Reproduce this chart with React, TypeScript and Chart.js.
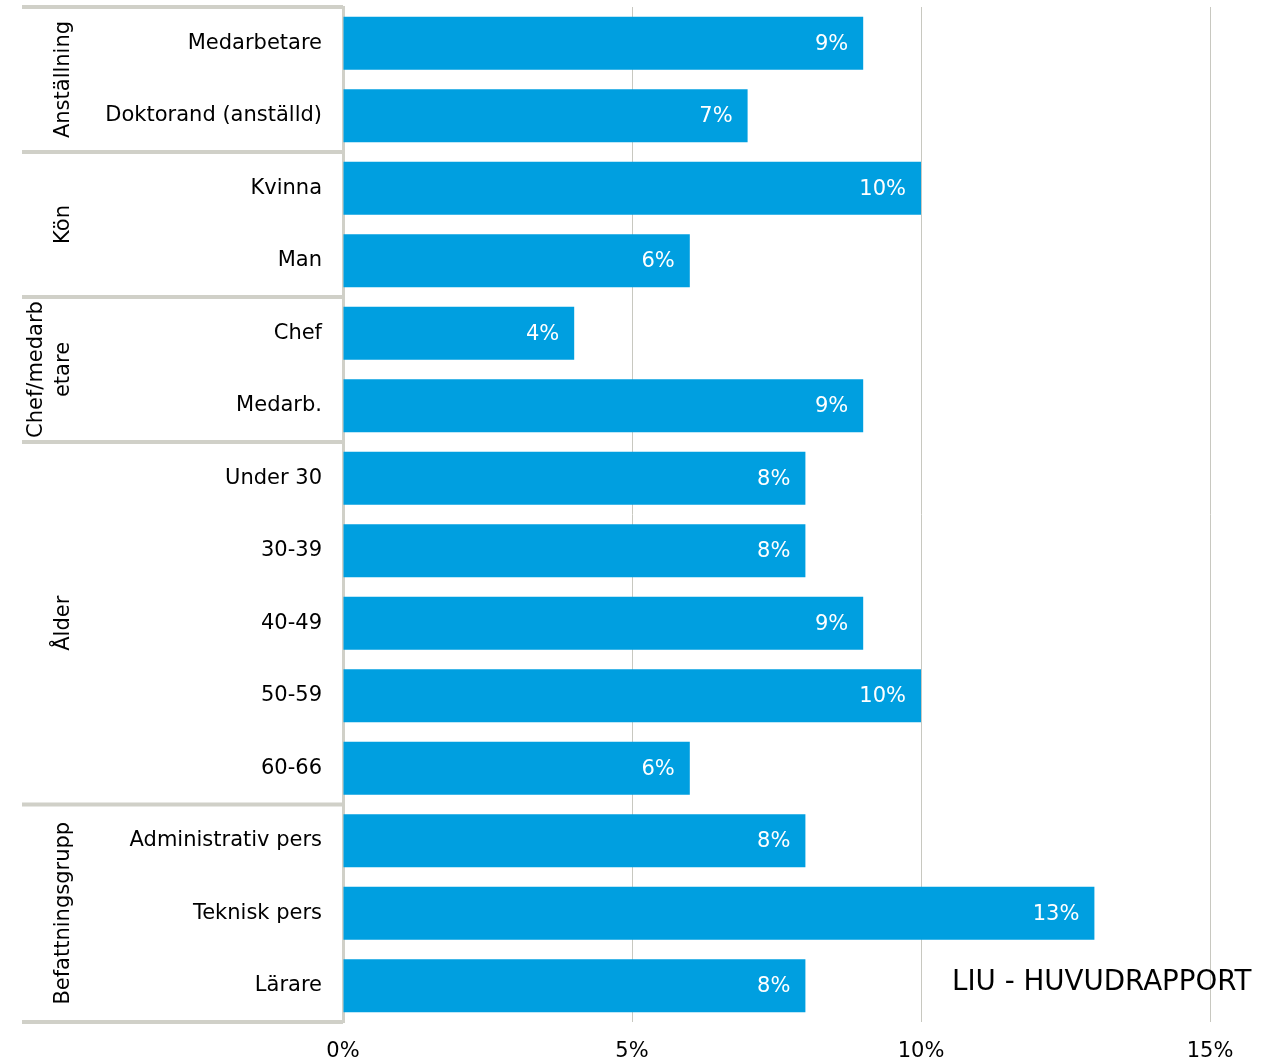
import React, { useEffect, useRef } from 'react';
import { Chart, registerables } from 'chart.js';

Chart.register(...registerables);

const categories = [
  'Medarbetare',
  'Doktorand (anställd)',
  'Kvinna',
  'Man',
  'Chef',
  'Medarb.',
  'Under 30',
  '30-39',
  '40-49',
  '50-59',
  '60-66',
  'Administrativ pers',
  'Teknisk pers',
  'Lärare',
];
const values = [9, 7, 10, 6, 4, 9, 8, 8, 9, 10, 6, 8, 13, 8];
const groupLabels = [['Anställning'], ['Kön'], ['Chef/medarb', 'etare'], ['Ålder'], ['Befattningsgrupp']];
const groupSizes = [2, 2, 2, 5, 3];
const xMin = 0;
const xMax = 15;
const xStep = 5;
const footerText = 'LIU - HUVUDRAPPORT';

const FONT = '"DejaVu Sans", Verdana, sans-serif';
const BAR = '#009FE0';
const SEP = '#D0D0C8';
const GRID = '#C8C8C0';
const TEXT = '#000000';

const decorPlugin = {
  id: 'decor',
  afterDraw(chart: any) {
    const ctx = chart.ctx;
    const y = chart.scales.y;
    const area = chart.chartArea;
    const p0 = y.getPixelForValue(0);
    const p1 = y.getPixelForValue(1);
    const half = (p1 - p0) / 2;

    // data labels
    const meta = chart.getDatasetMeta(0);
    ctx.save();
    ctx.fillStyle = '#FFFFFF';
    ctx.font = `21px ${FONT}`;
    ctx.textAlign = 'right';
    ctx.textBaseline = 'middle';
    meta.data.forEach((el: any, i: number) => {
      ctx.fillText(values[i] + '%', el.x - 15, el.y + 1);
    });
    ctx.restore();

    // group separators and labels
    ctx.save();
    ctx.strokeStyle = SEP;
    ctx.lineWidth = 4;
    let idx = 0;
    const bounds: number[] = [y.getPixelForValue(0) - half];
    groupSizes.forEach((n) => {
      idx += n;
      bounds.push(y.getPixelForValue(idx - 1) + half);
    });
    bounds.forEach((b) => {
      ctx.beginPath();
      ctx.moveTo(22, b);
      ctx.lineTo(area.left, b);
      ctx.stroke();
    });
    ctx.fillStyle = TEXT;
    ctx.font = `21px ${FONT}`;
    ctx.textAlign = 'center';
    ctx.textBaseline = 'middle';
    groupLabels.forEach((lines, g) => {
      const yc = (bounds[g] + bounds[g + 1]) / 2;
      const n = lines.length;
      lines.forEach((line, k) => {
        const xc = 64 - (n - 1 - k) * 27;
        ctx.save();
        ctx.translate(xc, yc);
        ctx.rotate(-Math.PI / 2);
        ctx.fillText(line, 0, 0);
        ctx.restore();
      });
    });
    ctx.restore();

    // footer text
    ctx.save();
    ctx.fillStyle = TEXT;
    ctx.font = `27.7px ${FONT}`;
    ctx.textAlign = 'left';
    ctx.textBaseline = 'alphabetic';
    ctx.fillText(footerText, 952, 990);
    ctx.restore();
  },
};

export default function App() {
  const ref = useRef<HTMLCanvasElement>(null);
  useEffect(() => {
    document.body.style.margin = '0';
    const chart = new Chart(ref.current as HTMLCanvasElement, {
      type: 'bar',
      data: {
        labels: categories,
        datasets: [
          {
            data: values,
            backgroundColor: BAR,
            barPercentage: 0.73,
            categoryPercentage: 1,
          },
        ],
      },
      options: {
        indexAxis: 'y',
        responsive: false,
        animation: false,
        layout: { padding: { top: 7, right: 74, left: 0, bottom: 0 } },
        plugins: { legend: { display: false }, tooltip: { enabled: false } },
        scales: {
          x: {
            min: xMin,
            max: xMax,
            ticks: {
              stepSize: xStep,
              callback: (v: any) => v + '%',
              font: { family: FONT, size: 21 },
              color: TEXT,
              padding: 17,
              maxRotation: 0,
            },
            grid: { color: GRID, drawTicks: false },
            border: { display: false },
            afterFit: (s: any) => {
              s.height = 39;
              s.paddingLeft = 0;
              s.paddingRight = 0;
            },
          },
          y: {
            ticks: { font: { family: FONT, size: 21 }, color: TEXT, padding: 21 },
            grid: { display: false, drawTicks: false },
            border: { color: SEP, width: 3 },
            afterFit: (s: any) => {
              s.width = 343;
              s.paddingTop = 0;
              s.paddingBottom = 0;
            },
          },
        },
      } as any,
      plugins: [decorPlugin],
    });
    return () => chart.destroy();
  }, []);
  return (
    <div style={{ width: 1284, height: 1061 }}>
      <canvas ref={ref} width={1284} height={1061} />
    </div>
  );
}
